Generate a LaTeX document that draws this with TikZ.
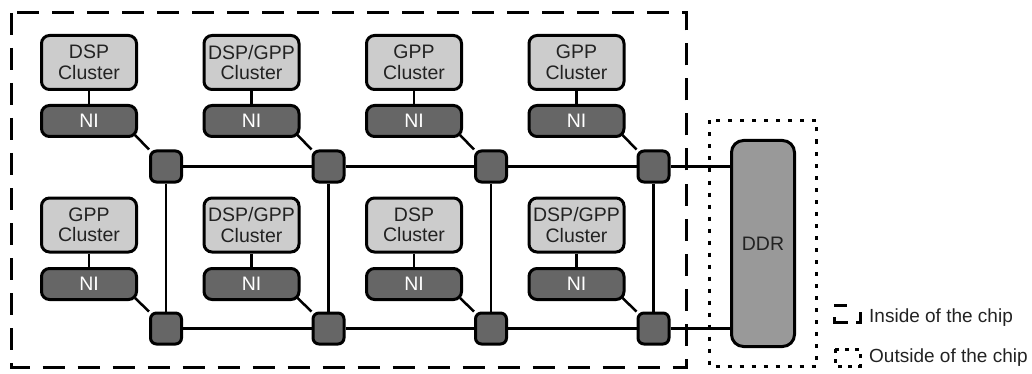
\documentclass[tikz,border=0pt]{standalone}
\usepackage{fontspec}
\setmainfont{Liberation Sans}
\usetikzlibrary{backgrounds}
\definecolor{clfill}{HTML}{CCCCCC}
\definecolor{nifill}{HTML}{666666}
\definecolor{ddrfill}{HTML}{999999}
\definecolor{txt}{HTML}{222222}
\tikzset{
  base/.style={draw=black, line width=3pt, rounded corners=8pt, inner sep=0pt, font=\fontsize{19.5}{20.5}\selectfont, align=center},
  cluster/.style={base, fill=clfill, text=txt, minimum width=95pt, minimum height=54pt},
  nibox/.style={base, fill=nifill, text=white, minimum width=95pt, minimum height=31pt},
  router/.style={base, fill=nifill, minimum width=31pt, minimum height=31pt, rounded corners=6pt},
  ddrbox/.style={base, fill=ddrfill, text=txt, minimum width=63pt, minimum height=206pt, rounded corners=12pt},
  wire/.style={line width=2.5pt, black},
  legtext/.style={anchor=west, inner sep=0pt, font=\fontsize{19}{21}\selectfont, text=txt},
  chipline/.style={line width=3pt, dash pattern=on 22pt off 13pt},
  offline/.style={line width=3pt, dash pattern=on 4pt off 8pt}
}
\begin{document}
\begin{tikzpicture}[x=1pt,y=-1pt]
\useasboundingbox (0,0) rectangle (1032,374);
% row 1
\node[cluster] (c11) at (89,62.5) {DSP\\Cluster};
\node[cluster] (c12) at (251.5,62.5) {DSP/GPP\\Cluster};
\node[cluster] (c13) at (414,62.5) {GPP\\Cluster};
\node[cluster] (c14) at (576.5,62.5) {GPP\\Cluster};
\node[nibox] (n11) at (89,121) {NI};
\node[nibox] (n12) at (251.5,121) {NI};
\node[nibox] (n13) at (414,121) {NI};
\node[nibox] (n14) at (576.5,121) {NI};
\node[router] (r11) at (166,166.5) {};
\node[router] (r12) at (328.5,166.5) {};
\node[router] (r13) at (491,166.5) {};
\node[router] (r14) at (653.5,166.5) {};
% row 2
\node[cluster] (c21) at (89,225) {GPP\\Cluster};
\node[cluster] (c22) at (251.5,225) {DSP/GPP\\Cluster};
\node[cluster] (c23) at (414,225) {DSP\\Cluster};
\node[cluster] (c24) at (576.5,225) {DSP/GPP\\Cluster};
\node[nibox] (n21) at (89,284) {NI};
\node[nibox] (n22) at (251.5,284) {NI};
\node[nibox] (n23) at (414,284) {NI};
\node[nibox] (n24) at (576.5,284) {NI};
\node[router] (r21) at (166,328.5) {};
\node[router] (r22) at (328.5,328.5) {};
\node[router] (r23) at (491,328.5) {};
\node[router] (r24) at (653.5,328.5) {};
% DDR
\node[ddrbox] (ddr) at (763,243.5) {DDR};
\begin{scope}[on background layer]
  \foreach \r in {1,2}{
    \foreach \c in {1,2,3,4}{
      \draw[wire] (c\r\c) -- (n\r\c);
      \draw[wire] (n\r\c.south east) ++(-3,-3) -- (r\r\c.north west);
    }
    \draw[wire] (r\r1) -- (r\r2) -- (r\r3) -- (r\r4);
    \draw[wire] (r\r4) -- (r\r4 -| ddr.west);
  }
  \foreach \c in {1,2,3,4}{
    \draw[wire] (r1\c) -- (r2\c);
  }
\end{scope}
% chip boundary
\draw[chipline] (11.5,13) rectangle (686,367);
% outside boundary
\draw[offline] (709.5,120.5) rectangle (816.5,366.5);
% legend
\draw[line width=3pt] (834,305) -- (847,305);
\draw[line width=3pt] (834,317) -- (834,322) -- (848,322);
\draw[line width=3pt] (856,322) -- (860,322) -- (860,312);
\node[legtext] (l1) at (869,318) {Inside of the chip};
\draw[line width=3pt, dash pattern=on 4pt off 6pt] (835,349) rectangle (860,366);
\node[legtext] (l2) at (869,358) {Outside of the chip};
\end{tikzpicture}
\end{document}
